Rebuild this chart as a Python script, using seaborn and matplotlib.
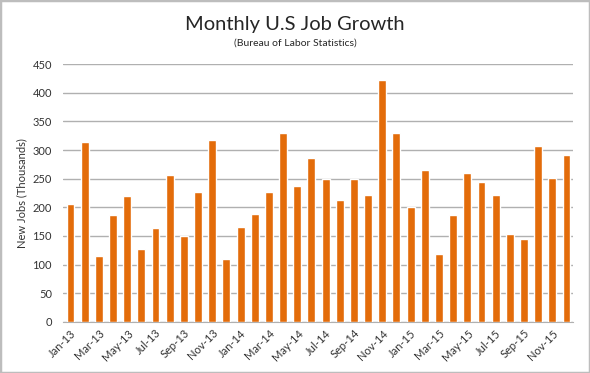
import matplotlib
matplotlib.use("Agg")
import matplotlib.pyplot as plt
import pandas as pd
import seaborn as sns
from matplotlib.patches import Rectangle

# Monthly new jobs (thousands), Jan 2013 - Dec 2015
months = ["Jan", "Feb", "Mar", "Apr", "May", "Jun", "Jul", "Aug", "Sep", "Oct", "Nov", "Dec"]
years = ["13", "14", "15"]
jobs_2013 = [205, 314, 115, 187, 219, 127, 164, 256, 150, 226, 318, 109]
jobs_2014 = [165, 188, 226, 330, 237, 286, 250, 213, 250, 221, 423, 329]
jobs_2015 = [200, 266, 119, 187, 260, 244, 222, 153, 145, 307, 252, 292]

labels = [f"{m}-{y}" for y in years for m in months]
df = pd.DataFrame({"month": labels, "jobs": jobs_2013 + jobs_2014 + jobs_2015})

sns.set_style("white")
plt.rcParams["font.family"] = ["Lato", "DejaVu Sans"]

fig = plt.figure(figsize=(5.9, 3.73), dpi=100)
ax = fig.add_axes([0.107, 0.137, 0.864, 0.691])

sns.barplot(data=df, x="month", y="jobs", color="#E36C0A", saturation=1,
            width=0.56, ax=ax, zorder=3)

ax.set_ylim(0, 450)
ax.set_yticks(range(0, 451, 50))
ax.yaxis.grid(True, color="#b0b0b0", linewidth=1, zorder=0)
ax.set_xlim(-0.52, 35.45)
ax.set_xticks(range(0, 36, 2))
ax.set_xticklabels(labels[::2], rotation=45, ha="right", rotation_mode="anchor")
ax.tick_params(axis="both", length=0, labelsize=8, colors="#333333")
ax.tick_params(axis="x", pad=4)
ax.tick_params(axis="y", pad=8)
ax.set_xlabel("")
ax.set_ylabel("New Jobs (Thousands)", fontsize=8, color="#333333")
for s in ["top", "right", "left"]:
    ax.spines[s].set_visible(False)
ax.spines["bottom"].set_color("#b0b0b0")

fig.text(0.5, 0.935, "Monthly U.S Job Growth", ha="center", va="center", fontsize=14.5)
fig.text(0.5, 0.884, "(Bureau of Labor Statistics)", ha="center", va="center", fontsize=7.5)

fig.patches.append(Rectangle((0, 0), 1, 1, transform=fig.transFigure, fill=False,
                             edgecolor="#bdbdbd", linewidth=2.5))

fig.savefig("out.png", dpi=100)
